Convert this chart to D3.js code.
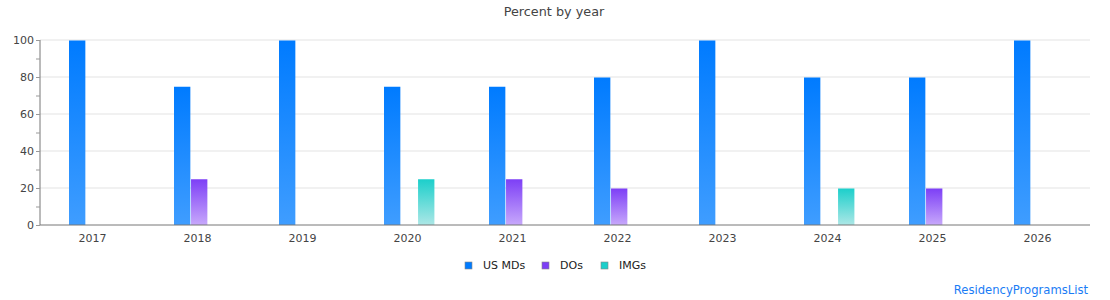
<!DOCTYPE html>
<html>
<head>
<meta charset="utf-8">
<script src="https://cdn.jsdelivr.net/npm/d3@7"></script>
<style>
  body { margin: 0; background: #fff; }
  text { font-family: "DejaVu Sans", Verdana, sans-serif; }
</style>
</head>
<body>
<div id="chart"></div>
<script>
// chart data
var years = ["2017", "2018", "2019", "2020", "2021", "2022", "2023", "2024", "2025", "2026"];
var seriesNames = ["US MDs", "DOs", "IMGs"];
var usMDs = [100, 75, 100, 75, 75, 80, 100, 80, 80, 100];
var dos   = [0, 25, 0, 0, 25, 20, 0, 0, 20, 0];
var imgs  = [0, 0, 0, 25, 0, 0, 0, 20, 0, 0];
var yTicks = [0, 20, 40, 60, 80, 100];

var svgWidth = 1110, svgHeight = 300;
var margin = { top: 40, right: 20, bottom: 75, left: 40 };
var width = svgWidth - margin.left - margin.right;
var height = svgHeight - margin.top - margin.bottom;

var colors = [
  { top: "#007bff", bottom: "#3f9dff" },
  { top: "#7d3ff6", bottom: "#c7a8fb" },
  { top: "#1ccfcb", bottom: "#ace7e6" }
];

var svg = d3.select("#chart").append("svg")
  .attr("width", svgWidth)
  .attr("height", svgHeight);

// gradients for bars
var defs = svg.append("defs");
colors.forEach(function(c, i) {
  var g = defs.append("linearGradient")
    .attr("id", "grad" + i)
    .attr("x1", 0).attr("y1", 0).attr("x2", 0).attr("y2", 1);
  g.append("stop").attr("offset", "0%").attr("stop-color", c.top);
  g.append("stop").attr("offset", "100%").attr("stop-color", c.bottom);
});

var chartGroup = svg.append("g")
  .attr("transform", `translate(${margin.left}, ${margin.top})`);

var x0 = d3.scaleBand().domain(years).range([0, width]).paddingInner(0.52).paddingOuter(0.26);
var x1 = d3.scaleBand().domain(seriesNames).range([0, x0.bandwidth()]).paddingInner(0.04);
var y = d3.scaleLinear().domain([0, 100]).range([height, 0]);

// gridlines
chartGroup.append("g")
  .selectAll("line")
  .data(yTicks.filter(d => d > 0))
  .enter().append("line")
  .attr("x1", 0).attr("x2", width)
  .attr("y1", d => y(d)).attr("y2", d => y(d))
  .attr("stroke", "#e3e3e3");

// bars
var rows = years.map(function(yr, i) {
  return { year: yr, values: [usMDs[i], dos[i], imgs[i]] };
});

var groups = chartGroup.selectAll(".yr")
  .data(rows)
  .enter().append("g")
  .attr("transform", d => `translate(${x0(d.year) + 1.7}, 0)`);

groups.selectAll("rect")
  .data(d => d.values.map((v, k) => ({ key: seriesNames[k], idx: k, value: v })).filter(d => d.value > 0))
  .enter().append("rect")
  .attr("x", d => x1(d.key))
  .attr("y", d => y(d.value) + 0.5)
  .attr("width", x1.bandwidth())
  .attr("height", d => height - y(d.value) - 0.5)
  .attr("fill", d => `url(#grad${d.idx})`);

// axes
var leftAxis = d3.axisLeft(y).tickValues(d3.range(0, 101, 10)).tickSize(5)
  .tickFormat(d => d % 20 === 0 ? d : "");
var yAxis = chartGroup.append("g").call(leftAxis);
yAxis.select(".domain").attr("stroke", "#777").attr("d", `M0,0V${height}`);
yAxis.selectAll(".tick line").attr("stroke", "#999").attr("x1", 0).attr("x2", -4);
yAxis.selectAll(".tick text").attr("x", -6).style("font-size", "11px").attr("fill", "#444");

var bottomAxis = d3.axisBottom(x0).tickSize(0).tickPadding(9);
var xAxis = chartGroup.append("g")
  .attr("transform", `translate(0, ${height})`)
  .call(bottomAxis);
xAxis.select(".domain").attr("stroke", "#777").attr("d", `M0,0H${width}`);
xAxis.selectAll(".tick text").style("font-size", "11px").attr("fill", "#444");

// title
svg.append("text")
  .attr("x", 554).attr("y", 16)
  .attr("text-anchor", "middle")
  .style("font-size", "12.8px")
  .attr("fill", "#444")
  .text("Percent by year");

// legend
var legendX = [465, 542, 601];
var legend = svg.append("g");
seriesNames.forEach(function(name, i) {
  legend.append("rect")
    .attr("x", legendX[i]).attr("y", 262)
    .attr("width", 7).attr("height", 7)
    .attr("fill", colors[i].top)
    .attr("stroke", "#888").attr("stroke-width", 0.6);
  legend.append("text")
    .attr("x", legendX[i] + 18).attr("y", 269)
    .style("font-size", "11px")
    .attr("fill", "#222")
    .text(name);
});

// credit
svg.append("text")
  .attr("x", 1088).attr("y", 294)
  .attr("text-anchor", "end")
  .style("font-size", "11.6px")
  .attr("fill", "#1a7cf5")
  .text("ResidencyProgramsList");
</script>
</body>
</html>
